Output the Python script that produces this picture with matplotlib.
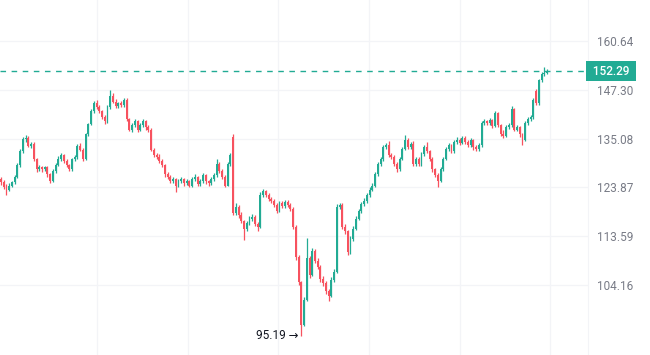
import numpy as np
import matplotlib
matplotlib.use("Agg")
import matplotlib.pyplot as plt
from matplotlib.ticker import FixedLocator, NullLocator

# precos diarios
opens = [125.8, 125.0, 124.1, 123.4, 124.3, 125.0, 126.2, 128.9, 132.1, 134.9,
         135.3, 133.4, 133.9, 130.2, 127.9, 128.4, 127.9, 128.4, 126.8, 125.4,
         127.5, 128.9, 130.2, 131.2, 129.8, 128.9, 127.9, 130.2, 130.7, 133.4,
         132.5, 130.2, 136.1, 138.6, 141.8, 143.8, 142.8, 141.8, 140.3, 139.3,
         142.8, 145.8, 144.3, 143.1, 143.8, 143.3, 144.8, 139.8, 137.3, 138.3,
         139.3, 137.3, 138.3, 139.3, 137.8, 137.3, 132.5, 131.2, 130.7, 129.8,
         128.9, 126.8, 126.2, 125.2, 125.7, 124.3, 125.2, 125.7, 124.8, 125.2,
         124.3, 125.7, 126.2, 124.6, 125.2, 126.6, 125.2, 124.8, 125.7, 126.6,
         129.1, 127.5, 126.2, 124.3, 129.1, 135.6, 118.4, 119.7, 118.0, 116.7,
         115.1, 116.3, 117.2, 117.6, 116.1, 115.5, 122.2, 123.0, 122.2, 121.4,
         120.9, 120.1, 118.8, 120.5, 119.9, 120.7, 120.1, 119.3, 115.5, 109.5,
         104.7, 97.1, 101.5, 109.2, 106.0, 110.7, 108.8, 107.6, 105.3, 104.5,
         103.0, 102.2, 105.1, 106.6, 119.7, 120.1, 115.5, 114.6, 110.4, 113.0,
         115.1, 117.2, 118.8, 120.3, 120.9, 122.2, 123.4, 124.3, 126.8, 129.1,
         130.2, 133.0, 133.5, 131.2, 130.7, 129.1, 127.9, 130.3, 132.6, 134.8,
         133.0, 133.7, 129.1, 130.3, 129.1, 131.4, 133.0, 132.1, 130.3, 127.9,
         126.6, 125.3, 127.9, 130.3, 132.6, 133.5, 132.1, 134.3, 134.8, 134.1,
         135.3, 134.3, 133.5, 134.8, 133.0, 132.6, 133.5, 138.8, 139.3, 138.8,
         139.6, 138.1, 141.3, 138.3, 136.3, 135.8, 137.8, 138.3, 142.3, 137.3,
         137.8, 136.1, 134.8, 138.8, 139.8, 140.3, 146.9, 143.8, 149.8, 151.5,
         151.8]
closes = [125.0, 123.9, 123.4, 124.3, 125.0, 126.2, 128.9, 132.1, 134.9, 135.3,
          133.4, 133.9, 130.2, 127.9, 128.4, 127.9, 128.4, 126.8, 125.4, 127.5,
          128.9, 130.2, 131.2, 129.8, 128.9, 127.9, 130.2, 130.7, 133.4, 132.5,
          130.2, 136.1, 138.6, 141.8, 143.8, 142.8, 141.8, 140.3, 139.3, 142.8,
          145.8, 144.3, 143.1, 143.8, 143.3, 144.8, 139.8, 137.3, 138.3, 139.3,
          137.3, 138.3, 139.3, 137.8, 137.3, 132.5, 131.2, 130.7, 129.8, 128.9,
          126.8, 126.2, 125.2, 125.7, 124.3, 125.2, 125.7, 124.8, 125.2, 124.3,
          125.7, 126.2, 124.6, 125.2, 126.6, 125.2, 124.8, 125.7, 126.6, 129.1,
          127.5, 126.2, 124.3, 129.1, 131.2, 118.4, 119.7, 118.0, 116.7, 115.1,
          116.3, 117.2, 117.6, 116.1, 115.5, 122.2, 123.0, 122.2, 121.4, 120.9,
          120.1, 118.8, 120.5, 119.9, 120.7, 120.1, 119.3, 115.5, 109.5, 104.7,
          97.1, 101.5, 109.2, 106.0, 110.7, 108.8, 107.6, 105.3, 104.5, 103.0,
          102.2, 105.1, 106.6, 119.7, 120.1, 115.5, 114.6, 110.4, 113.0, 115.1,
          117.2, 118.8, 120.3, 120.9, 122.2, 123.4, 124.3, 126.8, 129.1, 130.2,
          133.0, 133.5, 131.2, 130.7, 129.1, 127.9, 130.3, 132.6, 134.8, 133.0,
          133.7, 129.1, 130.3, 129.1, 131.4, 133.0, 132.1, 130.3, 127.9, 126.6,
          125.3, 127.9, 130.3, 132.6, 133.5, 132.1, 134.3, 134.8, 134.1, 135.3,
          134.3, 133.5, 134.8, 133.0, 132.6, 133.5, 138.8, 139.3, 138.8, 139.6,
          138.1, 141.3, 138.3, 136.3, 135.8, 137.8, 138.3, 142.3, 137.3, 137.8,
          136.1, 134.8, 138.8, 139.8, 140.3, 144.8, 143.8, 149.8, 151.5, 151.8,
          152.29]
highs = [126.3, 125.5, 124.6, 124.8, 125.4, 126.6, 129.3, 132.6, 135.5, 136.0,
         135.8, 134.4, 134.2, 130.6, 128.9, 128.8, 128.8, 128.7, 127.1, 128.0,
         129.3, 130.9, 131.6, 131.5, 130.2, 129.2, 130.6, 131.2, 133.9, 134.1,
         132.9, 136.5, 139.0, 142.3, 144.5, 144.8, 143.4, 142.2, 140.9, 143.3,
         147.3, 146.4, 144.9, 144.3, 144.4, 145.3, 145.1, 140.2, 138.8, 139.9,
         139.6, 138.9, 139.8, 139.6, 138.3, 137.6, 132.9, 131.8, 131.4, 130.3,
         129.2, 127.3, 126.7, 126.3, 126.0, 125.7, 126.2, 126.0, 125.8, 125.6,
         126.2, 126.8, 126.5, 125.7, 127.1, 126.9, 125.6, 126.2, 127.0, 130.2,
         129.6, 127.9, 126.6, 129.6, 131.8, 136.2, 120.5, 120.1, 118.5, 117.0,
         116.8, 117.8, 118.2, 118.0, 116.6, 122.8, 123.6, 123.4, 122.6, 121.8,
         121.4, 120.5, 121.0, 120.9, 121.2, 121.1, 120.5, 119.6, 115.8, 109.9,
         105.0, 102.0, 113.2, 109.6, 111.3, 111.1, 109.3, 108.0, 105.9, 105.0,
         103.5, 105.6, 107.2, 120.2, 120.6, 120.4, 116.0, 114.9, 113.6, 115.6,
         117.7, 119.3, 120.8, 121.5, 122.7, 123.9, 124.8, 127.3, 129.6, 130.8,
         133.6, 134.0, 134.6, 131.7, 131.2, 129.5, 130.8, 133.1, 135.9, 135.2,
         134.2, 134.6, 130.8, 130.7, 131.9, 133.5, 134.4, 132.5, 130.7, 128.3,
         127.0, 128.4, 130.8, 133.1, 134.0, 133.9, 134.8, 135.5, 135.2, 135.8,
         135.7, 134.7, 135.3, 135.1, 133.5, 134.0, 139.3, 139.8, 139.7, 140.1,
         140.0, 141.8, 141.6, 138.7, 137.3, 138.3, 138.9, 143.1, 142.6, 138.4,
         138.2, 136.5, 139.3, 140.3, 140.9, 145.3, 147.5, 150.3, 152.1, 153.3,
         152.8]
lows = [124.4, 123.5, 122.2, 123.0, 123.9, 124.7, 125.9, 128.5, 131.8, 134.2,
        133.0, 132.9, 129.8, 127.4, 127.5, 127.4, 127.5, 126.3, 124.8, 125.1,
        127.2, 128.6, 129.8, 129.4, 128.5, 127.5, 127.6, 129.8, 130.4, 132.1,
        129.8, 130.0, 135.8, 138.3, 141.5, 142.4, 141.3, 139.9, 138.6, 139.0,
        142.5, 143.9, 142.6, 142.7, 142.8, 143.0, 139.3, 136.9, 136.8, 137.9,
        136.8, 136.9, 137.9, 137.3, 136.8, 132.1, 130.8, 130.2, 129.3, 128.4,
        126.3, 125.7, 124.8, 124.9, 122.9, 124.0, 124.8, 124.3, 124.4, 123.9,
        124.0, 125.3, 124.1, 124.2, 124.9, 124.7, 124.3, 124.5, 125.3, 126.3,
        127.0, 125.8, 123.9, 124.1, 128.8, 118.0, 117.9, 117.4, 116.2, 112.8,
        114.7, 115.9, 116.8, 115.6, 114.6, 115.3, 121.8, 121.7, 120.9, 120.4,
        119.6, 118.3, 118.5, 119.4, 119.5, 119.7, 118.8, 115.0, 109.0, 104.2,
        95.19, 96.8, 101.2, 105.5, 105.8, 108.3, 107.1, 104.8, 103.9, 102.5,
        101.3, 101.9, 104.8, 106.4, 119.2, 115.0, 114.1, 109.9, 110.0, 112.7,
        114.8, 116.9, 118.4, 119.9, 120.5, 121.8, 123.0, 124.0, 126.5, 128.8,
        129.9, 132.6, 130.8, 130.2, 128.6, 127.4, 127.6, 130.0, 132.3, 132.6,
        132.6, 128.6, 128.7, 128.6, 128.8, 131.1, 131.6, 129.8, 127.4, 126.1,
        123.9, 125.0, 127.6, 130.0, 132.2, 131.6, 131.8, 133.9, 133.6, 133.8,
        133.8, 133.0, 133.2, 132.5, 132.1, 132.2, 133.2, 138.4, 138.3, 138.4,
        137.7, 137.8, 137.9, 135.8, 135.3, 135.5, 137.4, 138.0, 136.9, 136.9,
        135.6, 133.5, 134.5, 138.4, 139.4, 140.0, 143.4, 143.5, 149.4, 151.1,
        151.5]

price_ticks = [104.16, 113.59, 123.87, 135.08, 147.30, 160.64]
last_price = 152.29
low_price = 95.19

up_col = "#22ab94"
down_col = "#f7525f"
grid_col = "#f3f4f7"

o = np.array(opens)
c = np.array(closes)
h = np.array(highs)
l = np.array(lows)
x = np.arange(len(c))
cores = np.where(c >= o, up_col, down_col)

fig = plt.figure(figsize=(6.5, 3.55), dpi=100)
ax = fig.add_axes([0, 0, 588 / 650, 1])
ax.set_yscale("log")

# pavios e corpos
ax.vlines(x, l, h, colors=cores, linewidth=0.9, zorder=3)
ax.bar(x, np.abs(c - o), bottom=np.minimum(o, c), width=0.7,
       color=cores, linewidth=0, zorder=4)

ax.set_xlim(-0.37, 215.0)
ax.set_ylim(92.0, 172.8)

ax.yaxis.set_major_locator(FixedLocator(price_ticks))
ax.yaxis.set_minor_locator(NullLocator())
ax.set_yticklabels([f"{v:.2f}" for v in price_ticks])
ax.yaxis.tick_right()
ax.tick_params(axis="y", length=0, pad=6.5, labelsize=8.5, labelcolor="#787b86")
for t in ax.get_yticklabels():
    t.set_family("Roboto")

ax.set_xticks([35.2, 68.5, 101.5, 134.8, 168.1, 201.1])
ax.tick_params(axis="x", length=0, labelbottom=False)
ax.grid(True, color=grid_col, linewidth=0.9, zorder=0)

for s in ["top", "bottom", "left"]:
    ax.spines[s].set_visible(False)
ax.spines["right"].set_color(grid_col)

# linha do ultimo preco
ax.axhline(last_price, color=up_col, linewidth=1, linestyle=(0, (4, 4)), zorder=2)
ax.text(1.003, last_price, f" {last_price:.2f} ", transform=ax.get_yaxis_transform(),
        ha="left", va="center", color="white", fontsize=8.5, family="Roboto",
        fontweight="medium",
        bbox=dict(boxstyle="square,pad=0.3", fc=up_col, ec="none"), clip_on=False)

# minima
i_min = int(np.argmin(l))
ax.text(i_min - 1.2, low_price, f"{low_price:.2f} →", ha="right", va="center",
        fontsize=8.5, color="#131722", family=["Roboto", "DejaVu Sans"])

fig.savefig("out.png", dpi=100)
